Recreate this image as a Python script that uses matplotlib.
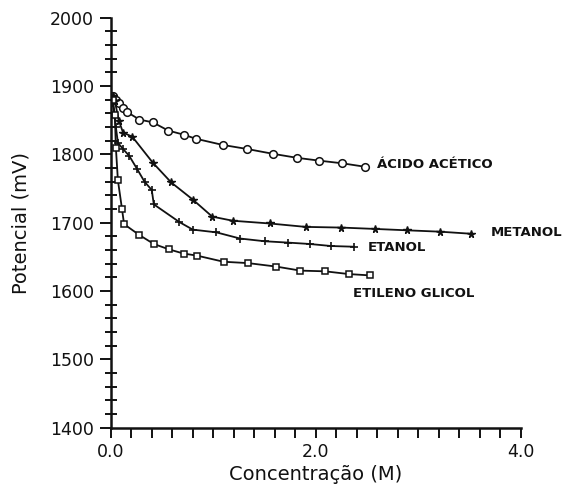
import matplotlib as mpl
from matplotlib import pyplot as plt
from matplotlib.ticker import MultipleLocator

mpl.rcParams["font.family"] = ["DejaVu Sans"]

# Concentration (M) and potential (mV)
acetico_x = [0.02, 0.05, 0.08, 0.12, 0.16, 0.28, 0.41, 0.56, 0.71, 0.83, 1.09, 1.33, 1.58, 1.82, 2.03, 2.26, 2.48]
acetico_y = [1885, 1880, 1875, 1868, 1862, 1851, 1847, 1835, 1829, 1823, 1814, 1808, 1801, 1795, 1791, 1787, 1782]

metanol_x = [0.02, 0.04, 0.08, 0.12, 0.21, 0.41, 0.59, 0.80, 0.99, 1.19, 1.55, 1.90, 2.25, 2.58, 2.89, 3.21, 3.51]
metanol_y = [1885, 1878, 1849, 1832, 1826, 1788, 1759, 1734, 1709, 1703, 1699, 1694, 1693, 1691, 1689, 1687, 1684]

etanol_x = [0.02, 0.05, 0.07, 0.12, 0.18, 0.26, 0.33, 0.40, 0.42, 0.67, 0.80, 1.03, 1.26, 1.50, 1.73, 1.94, 2.15, 2.37]
etanol_y = [1875, 1840, 1817, 1808, 1798, 1778, 1760, 1748, 1727, 1701, 1690, 1686, 1677, 1673, 1671, 1669, 1666, 1665]

glicol_x = [0.02, 0.04, 0.05, 0.07, 0.11, 0.13, 0.28, 0.42, 0.57, 0.71, 0.84, 1.10, 1.34, 1.61, 1.85, 2.09, 2.32, 2.53]
glicol_y = [1880, 1858, 1810, 1762, 1720, 1698, 1682, 1669, 1661, 1655, 1652, 1643, 1641, 1636, 1630, 1629, 1625, 1623]

labels = ["ÁCIDO ACÉTICO", "METANOL", "ETANOL", "ETILENO GLICOL"]
label_pos = [(2.60, 1785), (3.71, 1686), (2.51, 1664), (2.36, 1596)]

fig = plt.figure(figsize=(5.65, 4.94), dpi=100)
ax = fig.add_axes([0.196, 0.134, 0.726, 0.83])

ink = "#111111"
common = dict(color=ink, lw=1.3)
ax.plot(acetico_x, acetico_y, marker="o", ms=5.5, mfc="white", mec=ink, mew=1.1, **common)
ax.plot(metanol_x, metanol_y, marker="*", ms=5.5, mfc=ink, mec=ink, **common)
ax.plot(etanol_x, etanol_y, marker="+", ms=6, mew=1.2, **common)
ax.plot(glicol_x, glicol_y, marker="s", ms=5, mfc="white", mec=ink, mew=1.1, **common)

for text, (x, y) in zip(labels, label_pos):
    ax.text(x, y, text, fontsize=9.5, fontweight="bold", color=ink,
            va="center", ha="left", clip_on=False)

ax.set_xlim(0, 4)
ax.set_ylim(1400, 2000)
ax.set_xticks([0, 2, 4], ["0.0", "2.0", "4.0"])
ax.xaxis.set_minor_locator(MultipleLocator(0.2))
ax.yaxis.set_major_locator(MultipleLocator(100))
ax.yaxis.set_minor_locator(MultipleLocator(20))

for side in ["top", "right"]:
    ax.spines[side].set_visible(False)
for side in ["left", "bottom"]:
    ax.spines[side].set_linewidth(1.8)
    ax.spines[side].set_color(ink)

ax.tick_params(axis="both", which="both", colors=ink, labelsize=12.5, width=1.4)
ax.tick_params(axis="x", which="both", direction="out", length=7, pad=4)
ax.tick_params(axis="y", which="major", direction="out", length=8, pad=4)
ax.tick_params(axis="y", which="minor", direction="inout", length=8)

ax.set_xlabel("Concentração (M)", fontsize=14, color=ink, labelpad=3)
ax.set_ylabel("Potencial (mV)", fontsize=14, color=ink, labelpad=14)

fig.savefig("out.png", dpi=100, facecolor="white")
